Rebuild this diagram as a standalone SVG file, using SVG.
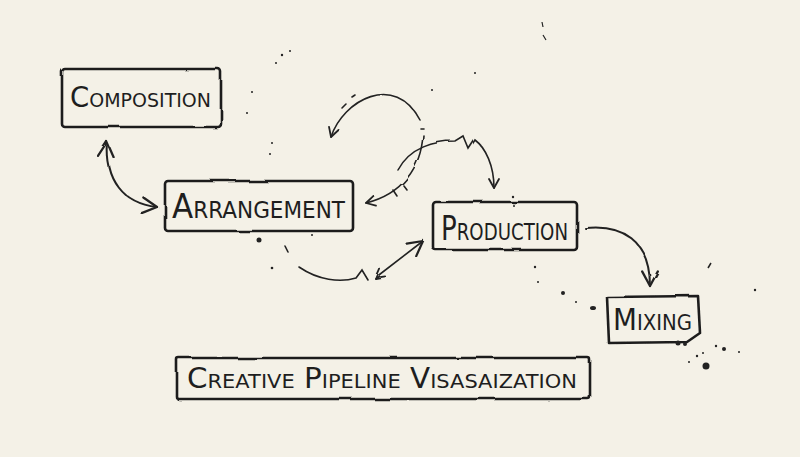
<svg xmlns="http://www.w3.org/2000/svg" width="800" height="457" viewBox="0 0 800 457">
<defs>
<filter id="rough" x="-5%" y="-5%" width="110%" height="110%">
<feTurbulence type="fractalNoise" baseFrequency="0.03" numOctaves="2" seed="3"/>
<feDisplacementMap in="SourceGraphic" scale="3"/>
</filter>
<marker id="ah" viewBox="0 0 12 12" refX="10" refY="6" markerWidth="12" markerHeight="12" markerUnits="userSpaceOnUse" orient="auto-start-reverse">
<path d="M1,1 L10,6 L1,11" fill="none" stroke="#222" stroke-width="1.8" stroke-linecap="round" stroke-linejoin="round"/>
</marker>
<marker id="ahb" viewBox="0 0 16 16" refX="14" refY="8" markerWidth="18" markerHeight="18" markerUnits="userSpaceOnUse" orient="auto-start-reverse">
<path d="M1,1 L14,8 L1,15" fill="none" stroke="#222" stroke-width="2" stroke-linecap="round" stroke-linejoin="round"/>
</marker>
</defs>
<style>
.box{fill:none;stroke:#1e1e1e;stroke-width:2.6;stroke-linejoin:round}
.lbl{font-family:"DejaVu Sans","Liberation Sans",sans-serif;font-variant:small-caps;fill:#1e1e1e;font-weight:normal}
.c{fill:none;stroke:#222;stroke-width:1.6;stroke-linecap:round}
.cb{fill:none;stroke:#222;stroke-width:2;stroke-linecap:round}
.dot{fill:#222}
</style>
<rect width="800" height="457" fill="#f4f1e7"/>
<g id="connectors" filter="url(#rough)">
<path class="cb" d="M107,142 C104,178 122,203 157,207" marker-start="url(#ahb)" marker-end="url(#ahb)"/>
<path class="c" d="M331,137 C343,100 395,72 420,120" marker-start="url(#ah)"/>
<path class="c" d="M342,108 l4,-4 M352,97 l3,-2" />
<path class="c" d="M420,128 l3,0"/>
<path class="c" d="M423,135 C421,168 402,194 366,203" marker-end="url(#ah)"/>
<path class="c" d="M393,190 l4,6 M404,186 l3,4"/>
<path class="c" d="M398,170 C410,147 435,141 455,141 L463,136 L468,148 L474,139 C486,148 494,166 494,188" marker-end="url(#ah)"/>
<path class="c" d="M285,246 l3,6"/>
<path class="c" d="M299,267 C318,280 340,283 356,278 L362,270 L368,280"/>
<path class="c" d="M375,278 L423,241" marker-start="url(#ah)" marker-end="url(#ahb)"/>
<path class="cb" d="M585,228 C622,224 650,240 650,286" marker-end="url(#ahb)"/>
</g>
<g id="composition">
<rect class="box" x="62" y="69" width="159" height="58" rx="3" filter="url(#rough)"/>
<text class="lbl" x="70" y="107" font-size="29" textLength="141" lengthAdjust="spacingAndGlyphs">Composition</text>
</g>
<g id="arrangement">
<rect class="box" x="165" y="181" width="188" height="50" rx="3" filter="url(#rough)"/>
<text class="lbl" x="172" y="218" font-size="33" textLength="173" lengthAdjust="spacingAndGlyphs">Arrangement</text>
</g>
<g id="production">
<rect class="box" x="433" y="202" width="144" height="48" rx="3" filter="url(#rough)"/>
<text class="lbl" x="441" y="240" font-size="33" textLength="127" lengthAdjust="spacingAndGlyphs">Production</text>
</g>
<g id="mixing">
<path class="box" d="M607,297 L698,296 L700,333 L687,342 L609,343 Z" filter="url(#rough)"/>
<text class="lbl" x="613" y="330" font-size="31" textLength="79" lengthAdjust="spacingAndGlyphs">Mixing</text>
</g>
<g id="title">
<rect class="box" x="177" y="358" width="413" height="41" rx="2" filter="url(#rough)"/>
<text class="lbl" x="187" y="388" font-size="28" textLength="390" lengthAdjust="spacingAndGlyphs">Creative Pipeline Visasaization</text>
</g>
<g id="spatter">
<circle class="dot" cx="259" cy="240" r="2.5"/>
<circle class="dot" cx="272" cy="268" r="1.3"/>
<circle class="dot" cx="282" cy="55" r="1.2"/>
<circle class="dot" cx="290" cy="51" r="1"/>
<circle class="dot" cx="276" cy="63" r="1"/>
<circle class="dot" cx="252" cy="92" r="1"/>
<circle class="dot" cx="247" cy="113" r="1"/>
<circle class="dot" cx="272" cy="143" r="1"/>
<circle class="dot" cx="270" cy="154" r="1"/>
<circle class="dot" cx="432" cy="90" r="1"/>
<circle class="dot" cx="475" cy="73" r="1"/>
<circle class="dot" cx="513" cy="197" r="1.2"/>
<circle class="dot" cx="514" cy="206" r="1"/>
<circle class="dot" cx="312" cy="235" r="1"/>
<circle class="dot" cx="535" cy="267" r="1.2"/>
<circle class="dot" cx="538" cy="282" r="1"/>
<circle class="dot" cx="563" cy="293" r="2"/>
<ellipse class="dot" cx="593" cy="308" rx="3" ry="2"/>
<circle class="dot" cx="576" cy="302" r="1"/>
<path d="M708,268 l3,-5" stroke="#222" stroke-width="1.5"/>
<path d="M542,22 l1,5 M543,35 l3,5" stroke="#222" stroke-width="1.2"/>
<circle class="dot" cx="678" cy="343" r="2.5"/>
<circle class="dot" cx="685" cy="344" r="2"/>
<circle class="dot" cx="706" cy="366" r="3.5"/>
<circle class="dot" cx="697" cy="356" r="1.2"/>
<circle class="dot" cx="716" cy="346" r="1.2"/>
<circle class="dot" cx="724" cy="349" r="2"/>
<circle class="dot" cx="703" cy="353" r="1"/>
<circle class="dot" cx="689" cy="362" r="1"/>
<circle class="dot" cx="755" cy="290" r="1.2"/>
<circle class="dot" cx="739" cy="352" r="1"/>
</g>
</svg>
